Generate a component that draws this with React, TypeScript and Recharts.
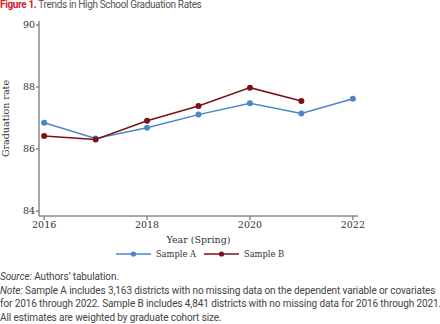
import { LineChart, Line, XAxis, YAxis, Legend } from 'recharts';

const years = [2016, 2017, 2018, 2019, 2020, 2021, 2022];
const sampleA = [86.85, 86.34, 86.69, 87.11, 87.48, 87.15, 87.62];
const sampleB = [86.42, 86.31, 86.91, 87.39, 87.98, 87.55, null];
const xTicks = [2016, 2018, 2020, 2022];
const yTicks = [84, 86, 88, 90];

const BLUE = '#4a86c8';
const RED = '#7d1118';
const AXIS = '#8a8a8a';
const SERIF = '"DejaVu Serif", serif';

const data = years.map((y, i) => ({ year: y, a: sampleA[i], b: sampleB[i] }));

const legendItems = [
  { name: 'Sample A', color: BLUE },
  { name: 'Sample B', color: RED },
];

function LegendContent() {
  return (
    <div style={{ display: 'flex', justifyContent: 'center', alignItems: 'center', height: 20, paddingRight: 40 }}>
      {legendItems.map((it, i) => (
        <div key={it.name} style={{ display: 'flex', alignItems: 'center', marginRight: i === 0 ? 8 : 0 }}>
          <svg width={35} height={10} style={{ marginRight: 5 }}>
            <line x1={0} y1={5} x2={35} y2={5} stroke={it.color} strokeWidth={1.5} />
            <circle cx={17.5} cy={5} r={2.6} fill={it.color} />
          </svg>
          <span style={{ fontFamily: SERIF, fontSize: 8.3, color: '#333' }}>{it.name}</span>
        </div>
      ))}
    </div>
  );
}

export default function App() {
  return (
    <div style={{ position: 'absolute', left: 0, top: 0, width: 440, height: 324, background: '#fff' }}>
      <div
        style={{
          position: 'absolute',
          left: 0,
          top: -1,
          fontFamily: 'Roboto, sans-serif',
          fontSize: 10,
          color: '#555',
          letterSpacing: -0.35,
          whiteSpace: 'nowrap',
        }}
      >
        <span style={{ color: '#d0202e', fontWeight: 700 }}>Figure 1.</span> Trends in High School Graduation Rates
      </div>
      <div style={{ position: 'absolute', left: 0, top: 0 }}>
        <LineChart width={440} height={268} data={data} margin={{ top: 21, right: 82, left: 9, bottom: 4 }}>
          <XAxis
            dataKey="year"
            type="number"
            domain={[2015.9, 2022.1]}
            ticks={xTicks}
            height={28}
            stroke={AXIS}
            strokeWidth={1.5}
            tickSize={4}
            tick={{ fill: '#333', fontSize: 9.5, fontFamily: SERIF }}
            tickMargin={1}
            label={{ value: 'Year (Spring)', position: 'insideBottom', offset: 1, fill: '#333', fontSize: 9.5, fontFamily: SERIF }}
          />
          <YAxis
            type="number"
            domain={[83.84, 90.13]}
            ticks={yTicks}
            width={30}
            stroke={AXIS}
            strokeWidth={1.5}
            tickSize={3}
            tickMargin={1}
            tick={{ fill: '#333', fontSize: 9.5, fontFamily: SERIF }}
            label={{
              value: 'Graduation rate',
              angle: -90,
              position: 'insideLeft',
              offset: -3,
              style: { textAnchor: 'middle' },
              fill: '#333',
              fontSize: 9.5,
              fontFamily: SERIF,
            }}
          />
          <Legend
            verticalAlign="bottom"
            height={20}
            wrapperStyle={{ left: 0, width: 440 }}
            content={<LegendContent />}
          />
          <Line
            dataKey="a"
            stroke={BLUE}
            strokeWidth={1.5}
            dot={{ r: 3, fill: BLUE, stroke: BLUE, strokeWidth: 0 }}
            isAnimationActive={false}
          />
          <Line
            dataKey="b"
            stroke={RED}
            strokeWidth={1.5}
            dot={{ r: 3, fill: RED, stroke: RED, strokeWidth: 0 }}
            isAnimationActive={false}
          />
        </LineChart>
      </div>
      <div
        style={{
          position: 'absolute',
          left: 0,
          top: 270,
          width: 440,
          fontFamily: 'Roboto, sans-serif',
          fontSize: 10,
          lineHeight: '13.5px',
          color: '#444',
          letterSpacing: -0.1,
          whiteSpace: 'nowrap',
        }}
      >
        <div><i>Source:</i> Authors’ tabulation.</div>
        <div><i>Note:</i> Sample A includes 3,163 districts with no missing data on the dependent variable or covariates</div>
        <div>for 2016 through 2022. Sample B includes 4,841 districts with no missing data for 2016 through 2021.</div>
        <div>All estimates are weighted by graduate cohort size.</div>
      </div>
    </div>
  );
}
